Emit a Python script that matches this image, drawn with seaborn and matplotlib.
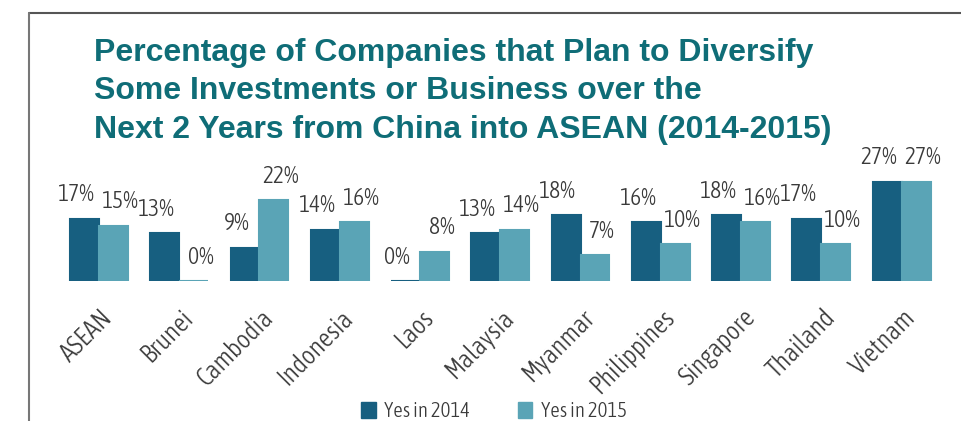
import matplotlib
matplotlib.use("Agg")

import matplotlib.pyplot as plt
import matplotlib.transforms as mtransforms
from matplotlib import font_manager
from matplotlib.lines import Line2D
import seaborn as sns
import pandas as pd

countries = ["ASEAN", "Brunei", "Cambodia", "Indonesia", "Laos", "Malaysia",
             "Myanmar", "Philippines", "Singapore", "Thailand", "Vietnam"]
yes_2014 = [17, 13, 9, 14, 0, 13, 18, 16, 18, 17, 27]
yes_2015 = [15, 0, 22, 16, 8, 14, 7, 10, 16, 10, 27]
series_names = ["Yes in 2014", "Yes in 2015"]

title = ("Percentage of Companies that Plan to Diversify\n"
         "Some Investments or Business over the\n"
         "Next 2 Years from China into ASEAN (2014-2015)")

DARK = "#175f80"
LIGHT = "#5aa4b6"
TEXT = "#3a3a3a"
TITLE_COLOR = "#0f6d77"

df = pd.DataFrame({
    "country": countries * 2,
    "value": yes_2014 + yes_2015,
    "year": [series_names[0]] * len(countries) + [series_names[1]] * len(countries),
})


def _w(f):
    w = f.weight
    if isinstance(w, str):
        return font_manager.weight_dict.get(w, 400)
    return w


# look for the lightest condensed face for the narrow labels
narrow_family, narrow_stretch, narrow_weight = "DejaVu Sans", "normal", 400
cands = [f for f in font_manager.fontManager.ttflist
         if ("Narrow" in f.name or "Condensed" in f.name) and f.style == "normal"]
if cands:
    best = min(cands, key=lambda f: abs(_w(f) - 300))
    narrow_family, narrow_weight = best.name, _w(best)
else:
    for f in font_manager.fontManager.ttflist:
        if f.stretch in ("condensed", "semi-condensed", "extra-condensed"):
            narrow_family, narrow_stretch = f.name, f.stretch
            break

sns.set_style("white")
plt.rcParams["font.family"] = [narrow_family, "DejaVu Sans"]
plt.rcParams["font.stretch"] = narrow_stretch
plt.rcParams["font.weight"] = narrow_weight

fig = plt.figure(figsize=(9.61, 4.21), dpi=100)
ax = fig.add_axes([50.8 / 961, 140 / 421, 899 / 961, 110 / 421])

sns.barplot(data=df, x="country", y="value", hue="year",
            palette=[DARK, LIGHT], width=0.72, ax=ax, saturation=1)

# thin edges so 0% bars still show as a line; labels pushed outward a bit
for cont, col, dx in zip(ax.containers, [DARK, LIGHT], [-6, 5]):
    for bar in cont:
        bar.set_edgecolor(col)
        bar.set_linewidth(1.5)
    texts = ax.bar_label(cont, labels=[f"{int(v.get_height())}%" for v in cont],
                         padding=9, fontsize=17, color=TEXT)
    for t in texts:
        t.xyann = (dx, t.xyann[1])

ax.set_xlim(-0.6, 10.6)
ax.set_ylim(0, 30)
ax.set_xlabel("")
ax.set_ylabel("")
ax.set_yticks([])
for s in ax.spines.values():
    s.set_visible(False)

ax.tick_params(axis="x", length=0, pad=17)
ax.set_xticks(range(len(countries)))
ax.set_xticklabels(countries, rotation=45, ha="right", rotation_mode="anchor",
                   fontsize=18.5, color=TEXT)
shift = mtransforms.ScaledTranslation(1 / 100, 0, fig.dpi_scale_trans)
for lbl in ax.get_xticklabels():
    lbl.set_transform(lbl.get_transform() + shift)

ax.legend_.remove()
handles = [plt.Rectangle((0, 0), 1, 1, color=c) for c in [DARK, LIGHT]]
fig.legend(handles, series_names, loc="lower center", bbox_to_anchor=(0.514, -0.045),
           ncol=2, frameon=False, fontsize=15, handlelength=0.7, handleheight=0.8,
           handletextpad=0.4, columnspacing=2.3, labelcolor=TEXT)

fig.text(94 / 961, 1 - 38 / 421, title, ha="left", va="top", fontsize=23,
         fontweight="bold", color=TITLE_COLOR, linespacing=1.36,
         family=["Liberation Sans", "DejaVu Sans"], fontstretch="normal")

# frame lines (top and left)
fig.add_artist(Line2D([29 / 961, 1], [1 - 13 / 421] * 2, color="#555555", lw=1.5))
fig.add_artist(Line2D([29 / 961] * 2, [0, 1 - 13 / 421], color="#777777", lw=1.5))

fig.savefig("out.png", dpi=100)
plt.close(fig)
